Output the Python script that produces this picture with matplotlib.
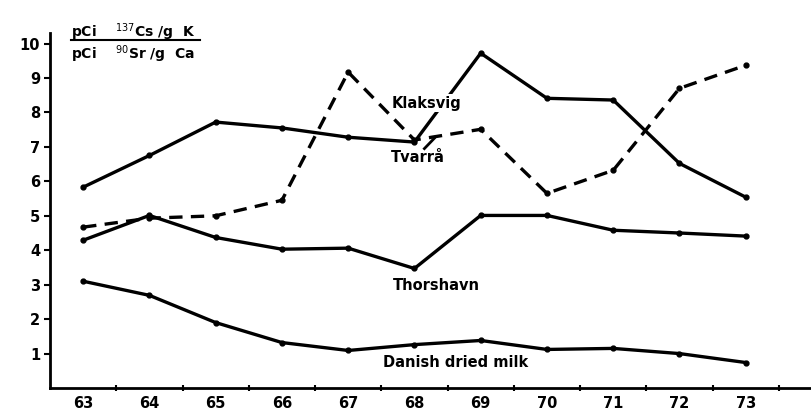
import matplotlib.pyplot as plt
import numpy as np

years = [63, 64, 65, 66, 67, 68, 69, 70, 71, 72, 73]
year_labels = ['63', '64', '65', '66', '67', '68', '69', '70', '71', '72', '73']

klaksvig = [5.83, 6.75, 7.72, 7.55, 7.28, 7.14, 9.72, 8.41, 8.36, 6.52, 5.54]
tvarra = [4.67, 4.93, 5.0, 5.45, 9.17, 7.2, 7.51, 5.65, 6.32, 8.7, 9.37]
thorshavn = [4.29, 5.01, 4.37, 4.03, 4.06, 3.47, 5.01, 5.01, 4.58, 4.5, 4.41]
danish = [3.1, 2.69, 1.9, 1.32, 1.09, 1.26, 1.38, 1.12, 1.15, 1.0, 0.74]

fig = plt.figure(figsize=(8.12, 4.15), dpi=100)
ax = fig.add_axes([0.0616, 0.065, 0.9384, 0.855])

lw = 2.4
ax.plot(years, klaksvig, color='black', lw=lw, marker='o', ms=3.5)
ax.plot(years, tvarra, color='black', lw=lw, ls=(0, (4, 2.5)), marker='o', ms=3.5)
ax.plot(years, thorshavn, color='black', lw=lw, marker='o', ms=3.5)
ax.plot(years, danish, color='black', lw=lw, marker='o', ms=3.5)

tf = dict(fontsize=10.5, fontweight='bold', color='black', ha='center', va='center')
ax.text(68.18, 8.27, 'Klaksvig',
        bbox=dict(facecolor='white', edgecolor='none', pad=1), zorder=5, **tf)
ax.text(68.05, 6.68, 'Tvarrå', **tf)
ax.plot([68.15, 68.3], [6.95, 7.25], color='black', lw=2)
ax.text(68.33, 2.98, 'Thorshavn', **tf)
ax.text(68.62, 0.74, 'Danish dried milk', **tf)

ax.set_xlim(62.5, 74.0)
ax.set_ylim(0, 10.3)
ax.set_xticks(years)
ax.set_xticklabels(year_labels, fontsize=10.5, fontweight='bold')
ax.set_xticks(np.arange(63.5, 74, 1.0), minor=True)
ax.tick_params(axis='x', which='major', length=0, pad=6)
ax.tick_params(axis='x', which='minor', length=5, width=1.5, direction='inout')
ax.set_yticks(range(1, 11))
ax.set_yticklabels([str(i) for i in range(1, 11)], fontsize=10.5, fontweight='bold')
ax.tick_params(axis='y', length=4, width=1.5, direction='out', pad=3)

for s in ['top', 'right']:
    ax.spines[s].set_visible(False)
for s in ['left', 'bottom']:
    ax.spines[s].set_linewidth(2)

# unit fraction at top left
fig.text(0.088, 0.912, r'pCi    $^{137}$Cs /g  K', fontsize=10, fontweight='bold', va='baseline')
fig.text(0.088, 0.895, r'pCi    $^{90}$Sr /g  Ca', fontsize=10, fontweight='bold', va='top')
fig.add_artist(plt.Line2D([0.088, 0.246], [0.904, 0.904], color='black', lw=1.5))

fig.savefig('out.png', dpi=100)
